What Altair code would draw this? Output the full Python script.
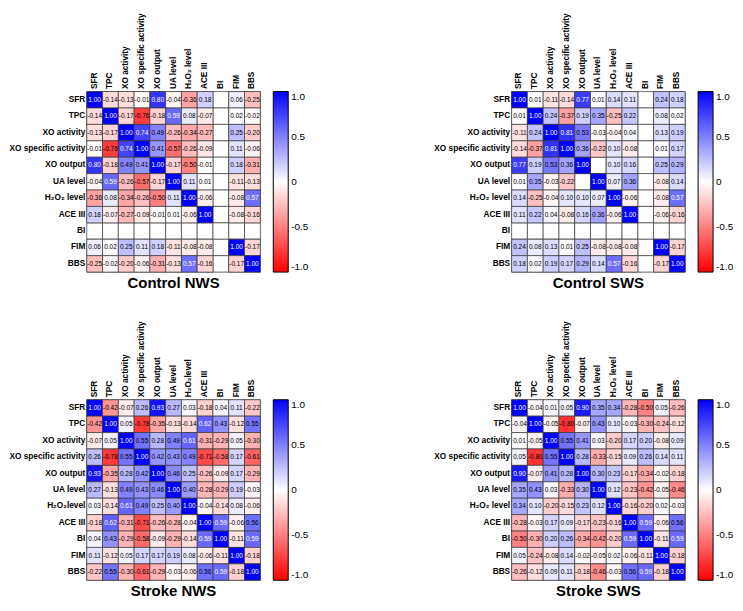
import altair as alt
import pandas as pd

LABELS = ["SFR", "TPC", "XO activity", "XO specific activity", "XO output",
          "UA level", "H₂O₂ level", "ACE III", "BI", "FIM", "BBS"]
LABELS_STROKE_NWS = ["SFR", "TPC", "XO activity", "XO specific activity", "XO output",
                     "UA level", "H₂O₂level", "ACE III", "BI", "FIM", "BBS"]

N = None
control_nws = [
    [1.00, -0.14, -0.13, -0.01, 0.80, -0.04, -0.36, 0.18, N, 0.06, -0.25],
    [-0.14, 1.00, -0.17, -0.76, -0.18, 0.59, 0.08, -0.07, N, 0.02, -0.02],
    [-0.13, -0.17, 1.00, 0.74, 0.49, -0.26, -0.34, -0.27, N, 0.25, -0.20],
    [-0.01, -0.76, 0.74, 1.00, 0.41, -0.57, -0.26, -0.09, N, 0.11, -0.06],
    [0.80, -0.18, 0.49, 0.41, 1.00, -0.17, -0.50, -0.01, N, 0.18, -0.31],
    [-0.04, 0.59, -0.26, -0.57, -0.17, 1.00, 0.11, 0.01, N, -0.11, -0.13],
    [-0.36, 0.08, -0.34, -0.26, -0.50, 0.11, 1.00, -0.06, N, -0.08, 0.57],
    [0.18, -0.07, -0.27, -0.09, -0.01, 0.01, -0.06, 1.00, N, -0.08, -0.16],
    [N, N, N, N, N, N, N, N, N, N, N],
    [0.06, 0.02, 0.25, 0.11, 0.18, -0.11, -0.08, -0.08, N, 1.00, -0.17],
    [-0.25, -0.02, -0.20, -0.06, -0.31, -0.13, 0.57, -0.16, N, -0.17, 1.00],
]
control_sws = [
    [1.00, 0.01, -0.11, -0.14, 0.77, 0.01, 0.14, 0.11, N, 0.24, 0.18],
    [0.01, 1.00, 0.24, -0.37, 0.19, 0.35, -0.25, 0.22, N, 0.08, 0.02],
    [-0.11, 0.24, 1.00, 0.81, 0.53, -0.03, -0.04, 0.04, N, 0.13, 0.19],
    [-0.14, -0.37, 0.81, 1.00, 0.36, -0.22, 0.10, -0.08, N, 0.01, 0.17],
    [0.77, 0.19, 0.53, 0.36, 1.00, N, 0.10, 0.16, N, 0.25, 0.29],
    [0.01, 0.35, -0.03, -0.22, N, 1.00, 0.07, 0.36, N, -0.08, 0.14],
    [0.14, -0.25, -0.04, 0.10, 0.10, 0.07, 1.00, -0.06, N, -0.08, 0.57],
    [0.11, 0.22, 0.04, -0.08, 0.16, 0.36, -0.06, 1.00, N, -0.06, -0.16],
    [N, N, N, N, N, N, N, N, N, N, N],
    [0.24, 0.08, 0.13, 0.01, 0.25, -0.08, -0.08, -0.08, N, 1.00, -0.17],
    [0.18, 0.02, 0.19, 0.17, 0.29, 0.14, 0.57, -0.16, N, -0.17, 1.00],
]
stroke_nws = [
    [1.00, -0.42, -0.07, 0.26, 0.93, 0.27, 0.03, -0.18, 0.04, 0.11, -0.22],
    [-0.42, 1.00, 0.05, -0.78, -0.35, -0.13, -0.14, 0.62, 0.43, -0.12, 0.55],
    [-0.07, 0.05, 1.00, 0.55, 0.28, 0.49, 0.61, -0.31, -0.29, 0.05, -0.30],
    [0.26, -0.78, 0.55, 1.00, 0.42, 0.43, 0.49, -0.71, -0.58, 0.17, -0.61],
    [0.93, -0.35, 0.28, 0.42, 1.00, 0.46, 0.25, -0.26, -0.09, 0.17, -0.29],
    [0.27, -0.13, 0.49, 0.43, 0.46, 1.00, 0.40, -0.28, -0.29, 0.19, -0.03],
    [0.03, -0.14, 0.61, 0.49, 0.25, 0.40, 1.00, -0.04, -0.14, 0.08, -0.06],
    [-0.18, 0.62, -0.31, -0.71, -0.26, -0.28, -0.04, 1.00, 0.59, -0.06, 0.56],
    [0.04, 0.43, -0.29, -0.58, -0.09, -0.29, -0.14, 0.59, 1.00, -0.11, 0.59],
    [0.11, -0.12, 0.05, 0.17, 0.17, 0.19, 0.08, -0.06, -0.11, 1.00, -0.18],
    [-0.22, 0.55, -0.30, -0.61, -0.29, -0.03, -0.06, 0.56, 0.59, -0.18, 1.00],
]
stroke_sws = [
    [1.00, -0.04, 0.01, 0.05, 0.90, 0.35, 0.34, -0.28, -0.50, 0.05, -0.26],
    [-0.04, 1.00, -0.05, -0.80, -0.07, 0.43, 0.10, -0.03, -0.30, -0.24, -0.12],
    [0.01, -0.05, 1.00, 0.55, 0.41, 0.03, -0.20, 0.17, 0.20, -0.08, 0.09],
    [0.05, -0.80, 0.55, 1.00, 0.28, -0.33, -0.15, 0.09, 0.26, 0.14, 0.11],
    [0.90, -0.07, 0.41, 0.28, 1.00, 0.30, 0.23, -0.17, -0.34, -0.02, -0.18],
    [0.35, 0.43, 0.03, -0.33, 0.30, 1.00, 0.12, -0.23, -0.42, -0.05, -0.46],
    [0.34, 0.10, -0.20, -0.15, 0.23, 0.12, 1.00, -0.16, -0.20, 0.02, -0.03],
    [-0.28, -0.03, 0.17, 0.09, -0.17, -0.23, -0.16, 1.00, 0.59, -0.06, 0.56],
    [-0.50, -0.30, 0.20, 0.26, -0.34, -0.42, -0.20, 0.59, 1.00, -0.11, 0.59],
    [0.05, -0.24, -0.08, 0.14, -0.02, -0.05, 0.02, -0.06, -0.11, 1.00, -0.18],
    [-0.26, -0.12, 0.09, 0.11, -0.18, -0.46, -0.03, 0.56, 0.59, -0.18, 1.00],
]

TITLES = ["Control NWS", "Control SWS", "Stroke NWS", "Stroke SWS"]
LEGEND_VALUES = [1, 0.5, 0, -0.5, -1]

FONT = "Liberation Sans"
W, H = 174, 181


def panel(matrix, labels, title):
    recs = []
    for i, r in enumerate(labels):
        for j, c in enumerate(labels):
            v = matrix[i][j]
            recs.append({"r": r, "c": c, "v": v,
                         "t": "" if v is None else f"{v:.2f}"})
    df = pd.DataFrame(recs)
    base = alt.Chart(df).encode(
        x=alt.X("c:N", sort=labels, title=None,
                scale=alt.Scale(paddingInner=0, paddingOuter=0),
                axis=alt.Axis(orient="top", labelAngle=-90, ticks=False, domain=False,
                              labelPadding=3, labelFont=FONT, labelFontWeight="bold",
                              labelFontSize=8.3, labelColor="black", labelLimit=0)),
        y=alt.Y("r:N", sort=labels, title=None,
                scale=alt.Scale(paddingInner=0, paddingOuter=0),
                axis=alt.Axis(orient="left", ticks=False, domain=False,
                              labelPadding=2, labelFont=FONT, labelFontWeight="bold",
                              labelFontSize=8.3, labelColor="black", labelLimit=0)),
    )
    bg = base.mark_rect(fill="white", stroke="#3a3a3a", strokeWidth=0.7)
    col = base.transform_filter("isValid(datum.v)").mark_rect(
        stroke="#3a3a3a", strokeWidth=0.7
    ).encode(
        color=alt.Color(
            "v:Q",
            scale=alt.Scale(domain=[-1, 0, 1], range=["#ff0000", "#ffffff", "#0000ff"],
                            interpolate="rgb"),
            legend=alt.Legend(
                title=None, values=LEGEND_VALUES, orient="right", direction="vertical",
                gradientLength=H, gradientThickness=15, gradientStrokeColor="black",
                gradientStrokeWidth=1, labelFont=FONT, labelFontSize=10,
                labelColor="black", offset=13, labelOffset=3,
                labelExpr="datum.value == 1 ? '1.0' : datum.value == 0.5 ? '0.5' : datum.value == 0 ? '0' : datum.value == -0.5 ? '-0.5' : '-1.0'",
            ),
        )
    )
    txt = base.transform_filter("isValid(datum.v)").mark_text(
        fontSize=6.5, font=FONT
    ).encode(
        text="t:N",
        color=alt.condition("datum.v >= 0.565", alt.value("white"), alt.value("black")),
    )
    return alt.layer(bg, col, txt).properties(
        width=W, height=H,
        title=alt.TitleParams(text=title, orient="bottom", anchor="middle", frame="group",
                              fontSize=15, fontWeight="bold", font=FONT, offset=3,
                              color="black"),
    )


p1 = panel(control_nws, LABELS, TITLES[0])
p2 = panel(control_sws, LABELS, TITLES[1])
p3 = panel(stroke_nws, LABELS_STROKE_NWS, TITLES[2])
p4 = panel(stroke_sws, LABELS, TITLES[3])

chart = alt.concat(
    p1, p2, p3, p4, columns=2, spacing={"row": 128, "column": 252}, bounds="flush"
).resolve_scale(color="independent").properties(
    padding={"left": 0, "top": 3, "right": 0, "bottom": 0}
).configure_view(stroke="black", strokeWidth=1.3).configure(font=FONT)

chart.save("out.html", embed_options={"renderer": "svg", "actions": False})
